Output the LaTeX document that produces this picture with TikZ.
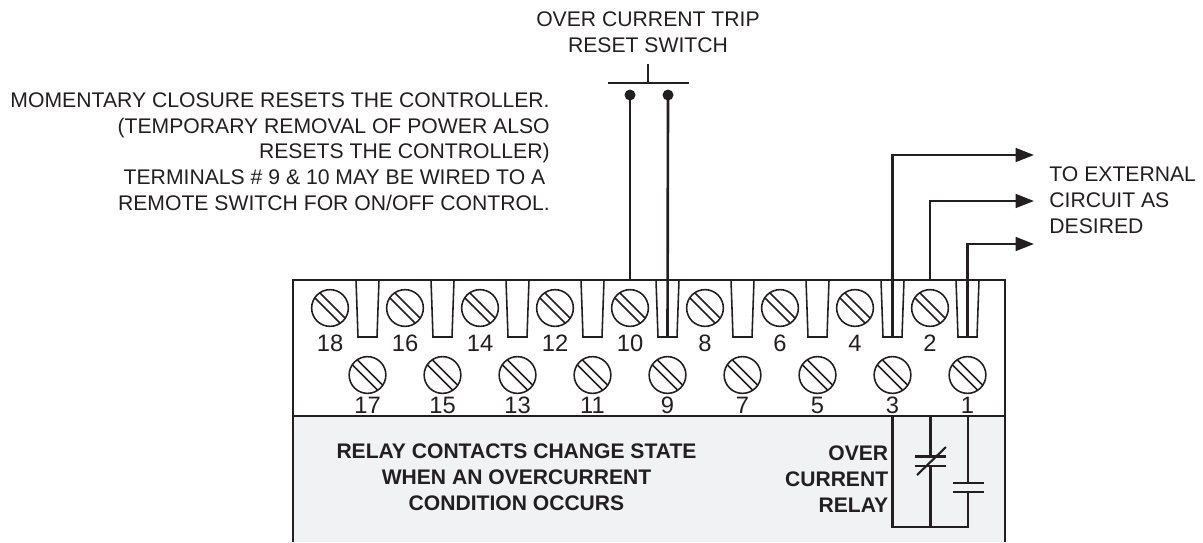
\documentclass[tikz,border=0pt]{standalone}
\usepackage{fontspec}
\setmainfont{Liberation Sans}
\usetikzlibrary{arrows.meta}

\definecolor{inkgray}{HTML}{231F20}
\definecolor{panelgray}{HTML}{F1F2F4}

\tikzset{
  wire/.style={line width=1.5pt, inkgray},
  outline/.style={line width=1.1pt, inkgray},
  thinline/.style={line width=0.9pt, inkgray},
  wirearrow/.style={wire, -{Triangle[length=10.5pt, width=7.8pt]}},
  screw/.style={circle, draw=inkgray, line width=0.9pt, minimum size=20.9pt, inner sep=0pt},
  termno/.style={anchor=base, inner sep=0pt, text=inkgray, font=\fontsize{13.5}{15}\selectfont},
  note/.style={inner sep=0pt, text=inkgray, font=\fontsize{12.05}{14.6}\selectfont},
  boldnote/.style={inner sep=0pt, text=inkgray, font=\fontsize{12}{14.6}\selectfont\bfseries},
}

\begin{document}
\begin{tikzpicture}[x=0.02cm, y=-0.02cm]
  \useasboundingbox (0,0) rectangle (1203,542);

  % lower panel
  \fill[panelgray] (293,416) rectangle (1005,542);
  \draw[outline] (293,542) -- (293,280) -- (1005,280) -- (1005,542);
  \draw[outline] (293,416) -- (1005,416);

  % notches between the upper screws
  \foreach \i in {0,...,8} {
    \coordinate (n\i) at (367.5+\i*75,337);
    \draw[thinline] (356+\i*75,280) -- (358+\i*75,337) -- (377+\i*75,337) -- (379+\i*75,280);
  }

  % upper screws, even numbers
  \foreach \n [count=\i from 0] in {18,16,...,2} {
    \node[screw] (s\n) at (330+\i*75,308) {};
    \draw[thinline] ([shift={(-9.9,-14.9)}]s\n.center) -- ([shift={(14.9,9.9)}]s\n.center);
    \draw[thinline] ([shift={(-14.9,-9.9)}]s\n.center) -- ([shift={(9.9,14.9)}]s\n.center);
    \node[termno] (t\n) at (330+\i*75,351) {\n};
  }

  % lower screws, odd numbers
  \foreach \n [count=\i from 0] in {17,15,...,1} {
    \node[screw] (s\n) at (367.5+\i*75,375) {};
    \draw[thinline] ([shift={(-9.9,-14.9)}]s\n.center) -- ([shift={(14.9,9.9)}]s\n.center);
    \draw[thinline] ([shift={(-14.9,-9.9)}]s\n.center) -- ([shift={(9.9,14.9)}]s\n.center);
    \node[termno] (t\n) at (367.5+\i*75,413) {\n};
  }

  % reset switch
  \coordinate (barL) at (608,83);
  \coordinate (barR) at (689,83);
  \coordinate (barM) at (648,83);
  \coordinate (stem) at (648,63.5);
  \coordinate (c10) at (630,95);
  \coordinate (c9) at (668,95);
  \coordinate (top10) at (630,280);
  \draw[wire] (barL) -- (barR);
  \draw[thinline] (stem) -- (barM);
  \fill[inkgray] (c10) circle (5.5);
  \fill[inkgray] (c9) circle (5.5);
  \draw[wire] (c10) -- (top10);
  \draw[wire] (c9) -- (n4);

  % outputs to the right
  \coordinate (out1) at (1034,155);
  \coordinate (out2) at (1034,201);
  \coordinate (out3) at (1034,244);
  \coordinate (top2) at (930,280);
  \draw[wirearrow] (n7) |- (out1);
  \draw[wirearrow] (top2) |- (out2);
  \draw[wirearrow] (n8) |- (out3);

  % relay contacts
  \coordinate (r3) at (892.5,416);
  \coordinate (r2) at (930.5,416);
  \coordinate (r1) at (968,416);
  \coordinate (b3) at (892.5,527);
  \coordinate (b2) at (930.5,527);
  \coordinate (b1) at (968,527);
  \coordinate (nc1) at (930.5,456.5);
  \coordinate (nc2) at (930.5,466);
  \coordinate (no1) at (968,483);
  \coordinate (no2) at (968,492);
  \draw[wire] (r3) -- (b3) -- (b1) -- (no2);
  \draw[wire] (no1) -- (r1);
  \draw[wire] (r2) -- (nc1);
  \draw[wire] (nc2) -- (b2);
  \draw[wire] (915,456.5) -- (946,456.5);
  \draw[wire] (915,466) -- (946,466);
  \draw[thinline, line width=1.2pt] (917,475) -- (946,447);
  \draw[wire] (953,483) -- (984,483);
  \draw[wire] (953,492) -- (984,492);

  % texts
  \node[note, align=center, anchor=base] (swlabel) at (648,52) {OVER CURRENT TRIP\\RESET SWITCH};
  \node[note, align=right, anchor=base east] (memo) at (550,210) {MOMENTARY CLOSURE RESETS THE CONTROLLER.\\(TEMPORARY REMOVAL OF POWER ALSO\\RESETS THE CONTROLLER)\\TERMINALS \# 9 \& 10 MAY BE WIRED TO A\rule{2.5pt}{0pt}\\REMOTE SWITCH FOR ON/OFF CONTROL.};
  \node[note, align=left, anchor=base west] (extlabel) at (1049,233) {TO EXTERNAL\\CIRCUIT AS\\DESIRED};
  \node[boldnote, align=center, anchor=base] (relaynote) at (516.5,510) {RELAY CONTACTS CHANGE STATE\\WHEN AN OVERCURRENT\\CONDITION OCCURS};
  \node[boldnote, align=right, anchor=base east] (relaylabel) at (888.5,512) {OVER\\CURRENT\\RELAY};
\end{tikzpicture}
\end{document}
